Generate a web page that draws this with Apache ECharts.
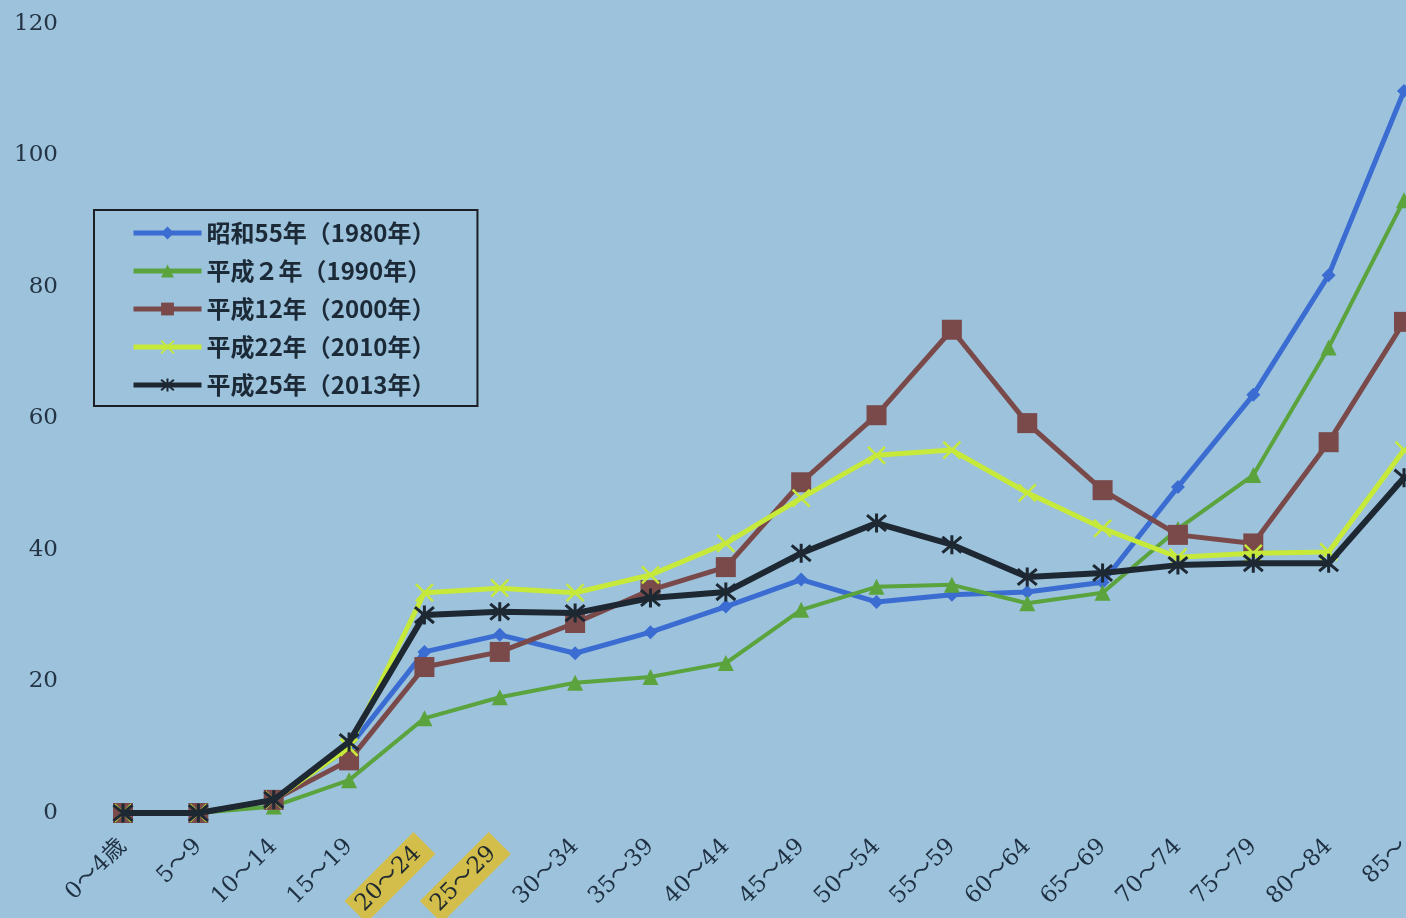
<!DOCTYPE html>
<html>
<head>
<meta charset="utf-8">
<script src="https://cdn.jsdelivr.net/npm/echarts@6/dist/echarts.min.js"></script>
<style>
  html, body { margin: 0; padding: 0; background: #9cc2dc; }
  #chart { width: 1406px; height: 918px; }
</style>
</head>
<body>
<div id="chart"></div>
<script>
// Age groups along the x axis
const ageGroups = ['0～4歳', '5～9', '10～14', '15～19', '20～24', '25～29', '30～34', '35～39',
  '40～44', '45～49', '50～54', '55～59', '60～64', '65～69', '70～74', '75～79', '80～84', '85～'];

// Age groups marked with a highlighter
const highlightedGroups = ['20～24', '25～29'];

// Series names
const seriesNames = ['昭和55年（1980年）', '平成２年（1990年）', '平成12年（2000年）', '平成22年（2010年）', '平成25年（2013年）'];

// Values per age group
const values1980 = [0, 0, 2, 10, 24.5, 27.1, 24.3, 27.5, 31.4, 35.5, 32.1, 33.2, 33.6, 35.1, 49.6, 63.6, 81.8, 109.8];
const values1990 = [0, 0, 1, 5, 14.4, 17.6, 19.8, 20.7, 22.8, 30.9, 34.4, 34.7, 31.9, 33.5, 43.2, 51.4, 70.8, 93.2];
const values2000 = [0, 0, 2, 8, 22.2, 24.5, 28.9, 33.9, 37.4, 50.3, 60.5, 73.5, 59.3, 49.1, 42.3, 41.0, 56.4, 74.7];
const values2010 = [0, 0, 2, 10, 33.5, 34.2, 33.5, 36.2, 41.0, 47.9, 54.4, 55.2, 48.7, 43.3, 38.9, 39.5, 39.7, 55.2];
const values2013 = [0, 0, 2, 10.8, 30.1, 30.6, 30.4, 32.7, 33.6, 39.5, 44.1, 40.8, 35.9, 36.5, 37.7, 38.0, 38.0, 51.0];

// Y axis ticks
const yTicks = [0, 20, 40, 60, 80, 100, 120];

const seriesValues = [values1980, values1990, values2000, values2010, values2013];
const colors = ['#3a6cd2', '#5ba33c', '#7a4a4a', '#c6e93a', '#1d2833'];
const symbols = [
  'diamond',
  'triangle',
  'rect',
  'path://M0,0L10,10M10,0L0,10',
  'path://M0,0L10,10M10,0L0,10M5,-1L5,11'
];
const symbolSizes = [14, 16, 20, 17, 19];
const lineWidths = [5, 4, 5, 5, 6];
const strokeWidths = [0, 0, 0, 2.5, 3];

const chart = echarts.init(document.getElementById('chart'));

const serif = '"DejaVu Serif", "Noto Sans CJK JP", serif';

chart.setOption({
  backgroundColor: '#9cc2dc',
  animation: false,
  grid: { left: 123, right: 2, top: 24, bottom: 105, containLabel: false, outerBoundsMode: 'none' },
  legend: {
    orient: 'vertical',
    left: 94,
    top: 210,
    padding: [11, 42, 9, 37],
    borderColor: '#1b1f24',
    borderWidth: 2,
    itemWidth: 68,
    itemHeight: 16,
    itemGap: 14,
    lineStyle: { width: 5 },
    textStyle: {
      fontFamily: '"Noto Sans CJK JP", sans-serif',
      fontSize: 24,
      fontWeight: 'bold',
      color: '#1c2a38'
    },
    data: seriesNames
  },
  xAxis: {
    type: 'category',
    data: ageGroups,
    boundaryGap: false,
    axisLine: { show: false },
    axisTick: { show: false },
    splitLine: { show: false },
    axisLabel: {
      interval: 0,
      rotate: 45,
      margin: 30,
      formatter: v => highlightedGroups.includes(v) ? '{hl|' + v + '}' : '{n|' + v + '}',
      rich: {
        n: { fontFamily: serif, fontSize: 23, color: '#1f3042' },
        hl: {
          fontFamily: serif, fontSize: 23, color: '#1f2a30',
          backgroundColor: 'rgba(216,190,62,0.92)',
          padding: [4, 10, 4, 6]
        }
      }
    }
  },
  yAxis: {
    type: 'value',
    min: yTicks[0],
    max: yTicks[yTicks.length - 1],
    interval: yTicks[1] - yTicks[0],
    axisLine: { show: false },
    axisTick: { show: false },
    splitLine: { show: false },
    axisLabel: {
      margin: 65,
      fontFamily: serif,
      fontSize: 23,
      color: '#243444'
    }
  },
  series: seriesNames.map((name, i) => ({
    name: name,
    type: 'line',
    data: seriesValues[i],
    symbol: symbols[i],
    symbolSize: symbolSizes[i],
    showAllSymbol: true,
    clip: false,
    z: 2 + i,
    lineStyle: { color: colors[i], width: lineWidths[i] },
    itemStyle: {
      color: colors[i],
      borderColor: colors[i],
      borderWidth: strokeWidths[i]
    },
    emphasis: { disabled: true }
  }))
});
</script>
</body>
</html>
